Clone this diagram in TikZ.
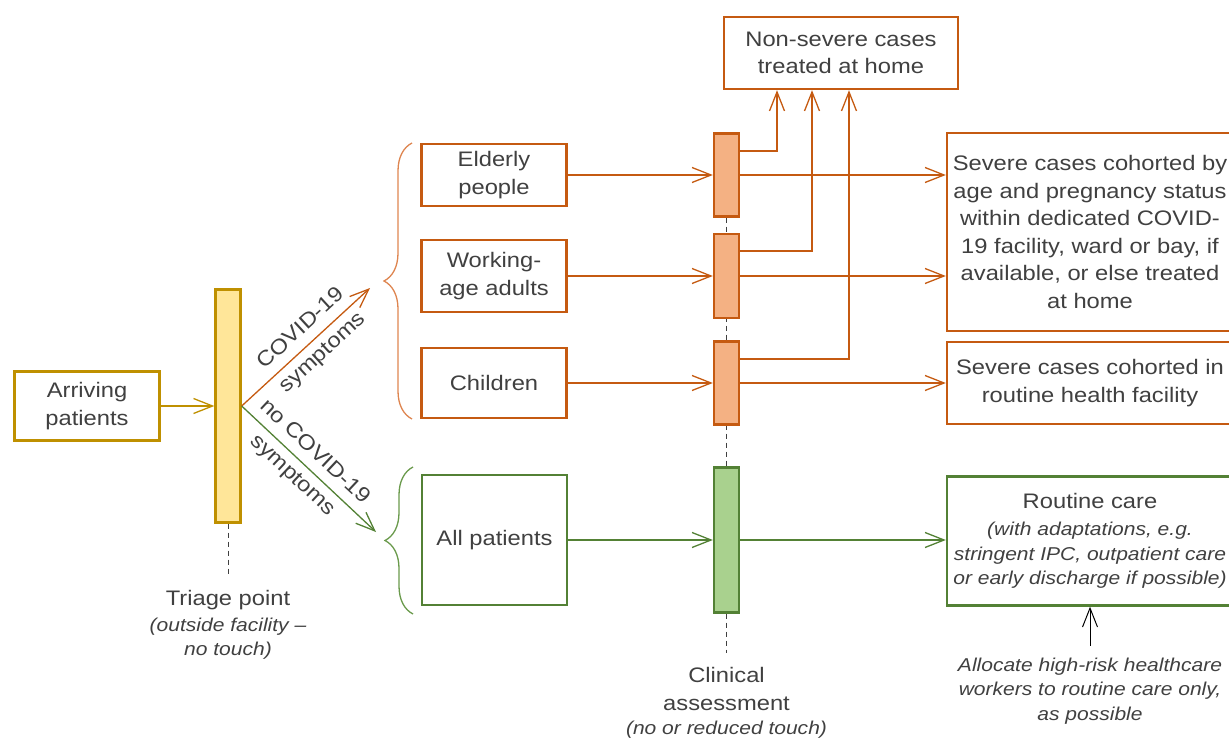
\documentclass[tikz,border=0pt]{standalone}
\usepackage{fontspec}
\setmainfont{Liberation Sans}[FakeStretch=1.13]
\usetikzlibrary{arrows.meta,positioning,decorations.pathreplacing,backgrounds}

\definecolor{textGray}{HTML}{404040}
\definecolor{goldLine}{HTML}{BF9000}
\definecolor{goldFill}{HTML}{FFE699}
\definecolor{orangeLine}{HTML}{C55A11}
\definecolor{orangeFill}{HTML}{F4B183}
\definecolor{orangeBrace}{HTML}{DE8550}
\definecolor{greenLine}{HTML}{538135}
\definecolor{greenFill}{HTML}{A9D18E}
\definecolor{greenBrace}{HTML}{6A9A4C}

\begin{document}
\begin{tikzpicture}[x=1pt,y=-1pt,
    every node/.style={text=textGray,font=\fontsize{21}{27.5}\selectfont,align=center,inner sep=0pt},
    box/.style={draw,line width=2.4pt,fill=white,minimum width=145pt},
    goldBox/.style={box,draw=goldLine},
    orangeBox/.style={box,draw=orangeLine},
    greenBox/.style={box,draw=greenLine},
    bar/.style={draw,line width=2.4pt,minimum width=25pt},
    goldBar/.style={bar,draw=goldLine,fill=goldFill},
    orangeBar/.style={bar,draw=orangeLine,fill=orangeFill},
    greenBar/.style={bar,draw=greenLine,fill=greenFill},
    tipArrow/.style={-{Straight Barb[length=19pt,width=15pt]},line width=1.3pt},
    goldArrow/.style={tipArrow,draw=goldLine},
    orangeArrow/.style={tipArrow,draw=orangeLine},
    greenArrow/.style={tipArrow,draw=greenLine},
    blackArrow/.style={tipArrow,draw=black,line width=1pt},
    dashLine/.style={draw=black!75,line width=1pt,dash pattern=on 5pt off 4pt},
    braceLine/.style={decorate,decoration={brace,amplitude=28pt},line width=1.3pt},
    note/.style={font=\fontsize{18.6}{24.5}\selectfont\itshape}
]
    \newcommand{\noteFont}{\fontsize{18.6}{24.5}\selectfont\itshape}

    \useasboundingbox (0,0) rectangle (1229,738);
    \clip (0,0) rectangle (1229,738);

    \node[goldBox,minimum height=69pt] (arrivingBox) at (87,406) {Arriving\\patients};
    \node[goldBar,minimum height=233pt] (triageBar) at (228,406) {};
    \node (triageLabel) at (228,600) {Triage point};
    \node[note] (triageNote) at (228,638.5) {(outside facility --\\no touch)};

    \coordinate (covidEnd) at (370,288);
    \coordinate (noCovidEnd) at (376,532);

    \draw[orangeBrace,braceLine] (412,419) -- (412,143);
    \draw[greenBrace,braceLine] (413,614) -- (413,467);

    \node[orangeBox,minimum height=62pt] (elderlyBox) at (494,175) {Elderly\\people};
    \node[orangeBox,minimum height=72pt] (workingBox) at (494,276) {Working-\\age adults};
    \node[orangeBox,minimum height=70pt] (childrenBox) at (494,383) {Children};
    \node[greenBox,minimum height=130pt] (allBox) at (494.5,540) {All patients};

    \node[orangeBar,minimum height=83pt] (elderlyBar) at (726.5,175) {};
    \node[orangeBar,minimum height=84pt] (workingBar) at (726.5,276) {};
    \node[orangeBar,minimum height=83pt] (childrenBar) at (726.5,383) {};
    \node[greenBar,minimum height=145pt] (allBar) at (726.5,540) {};
    \node (clinicalLabel) at (726.5,689) {Clinical\\assessment};
    \node[note] (clinicalNote) at (726.5,730) {(no or reduced touch)};

    \node[orangeBox,minimum width=234pt,minimum height=72pt] (homeBox) at (841,53) {Non-severe cases\\treated at home};
    \node[orangeBox,minimum width=286pt,minimum height=198pt] (severeBox) at (1090,232)
        {Severe cases cohorted by\\age and pregnancy status\\within dedicated COVID-\\19 facility, ward or bay, if\\available, or else treated\\at home};
    \node[orangeBox,minimum width=286pt,minimum height=82pt] (childSevereBox) at (1090,383)
        {Severe cases cohorted in\\routine health facility};
    \node[greenBox,minimum width=286pt,minimum height=129pt] (routineBox) at (1090,541)
        {Routine care\\{\noteFont (with adaptations, e.g.}\\[-3pt]{\noteFont stringent IPC, outpatient care}\\[-3pt]{\noteFont or early discharge if possible)}};
    \node[note] (allocNote) at (1090,691) {Allocate high-risk healthcare\\workers to routine care only,\\as possible};

    \begin{scope}[on background layer]
        \draw[dashLine] (triageBar.south) -- ([yshift=-50pt]triageBar.south);
        \draw[dashLine] (elderlyBar.south) -- (allBar.south) -- ([yshift=-39pt]allBar.south);
    \end{scope}

    \draw[goldArrow] (arrivingBox.east) -- (arrivingBox.east -| triageBar.west);
    \draw[orangeArrow] (triageBar.east) -- node[sloped,pos=0.55] {COVID-19\\[5pt]symptoms} (covidEnd);
    \draw[greenArrow] (triageBar.east) -- node[sloped,pos=0.46] {no COVID-19\\[5pt]symptoms} (noCovidEnd);

    \draw[orangeArrow] (elderlyBox.east) -- (elderlyBox.east -| elderlyBar.west);
    \draw[orangeArrow] (workingBox.east) -- (workingBox.east -| workingBar.west);
    \draw[orangeArrow] (childrenBox.east) -- (childrenBox.east -| childrenBar.west);
    \draw[greenArrow] (allBox.east) -- (allBox.east -| allBar.west);

    \draw[orangeArrow] ([yshift=24pt]elderlyBar.east) -| ([xshift=-64pt]homeBox.south);
    \draw[orangeArrow] ([yshift=25pt]workingBar.east) -| ([xshift=-29pt]homeBox.south);
    \draw[orangeArrow] ([yshift=24pt]childrenBar.east) -| ([xshift=8pt]homeBox.south);

    \draw[orangeArrow] (elderlyBar.east) -- (elderlyBar.east -| severeBox.west);
    \draw[orangeArrow] (workingBar.east) -- (workingBar.east -| severeBox.west);
    \draw[orangeArrow] (childrenBar.east) -- (childrenBar.east -| childSevereBox.west);
    \draw[greenArrow] (allBar.east) -- (allBar.east -| routineBox.west);

    \draw[blackArrow] ([yshift=12pt]allocNote.north) -- (routineBox.south);

\end{tikzpicture}
\end{document}
